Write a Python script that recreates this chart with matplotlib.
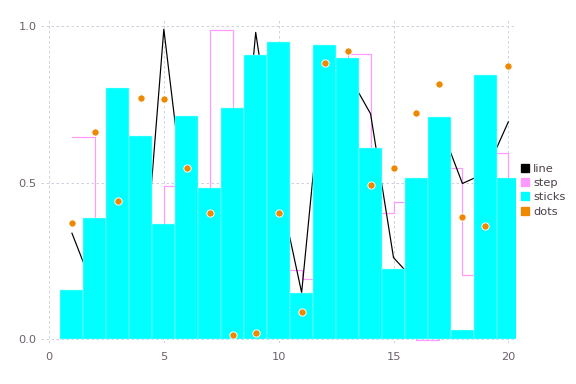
import numpy as np

import matplotlib
matplotlib.use("Agg")

import matplotlib.pyplot as plt
from matplotlib.lines import Line2D


# values, one per x position
xs = np.arange(1, 21)
lineVals = [0.338, 0.15, 0.30, 0.07, 0.99, 0.38, 0.30, 0.17, 0.98, 0.49,
            0.148, 0.90, 0.85, 0.72, 0.26, 0.18, 0.69, 0.497, 0.53, 0.694]
stepVals = [0.645, 0.30, 0.55, 0.20, 0.489, 0.40, 0.989, 0.60, 0.50, 0.220,
            0.193, 0.70, 0.912, 0.404, 0.437, -0.002, 0.547, 0.203, 0.596, 0.30]
stickVals = [0.156, 0.387, 0.802, 0.649, 0.366, 0.713, 0.483, 0.739, 0.909, 0.949,
             0.147, 0.939, 0.898, 0.609, 0.223, 0.514, 0.710, 0.029, 0.843, 0.513]
dotVals = [0.370, 0.662, 0.442, 0.771, 0.768, 0.548, 0.401, 0.012, 0.018, 0.404,
           0.087, 0.882, 0.919, 0.491, 0.548, 0.721, 0.815, 0.389, 0.362, 0.872]

seriesNames = ["line", "step", "sticks", "dots"]
seriesColors = ["black", "#ff99ff", "#00ffff", "#ee8800"]
xTicks = [0, 5, 10, 15, 20]
yTicks = [0.0, 0.5, 1.0]

labelColor = "#6c606b"
gridColor = "#d0d0e0"

fig = plt.figure(figsize=(6, 4), dpi=96)
ax = fig.add_axes([0.0707, 0.1068, 0.8246, 0.8455])

ax.step(xs, stepVals, where='post', color=seriesColors[1], lw=0.9, zorder=2)
ax.plot(xs, lineVals, color=seriesColors[0], lw=0.9, zorder=3)
ax.bar(xs, stickVals, width=1.0, color=seriesColors[2], edgecolor="#a8ffff", lw=0.35, zorder=4)
ax.scatter(xs, dotVals, s=30, color=seriesColors[3], edgecolors="white", linewidths=0.7, zorder=5)

ax.set_xlim(-0.36, 20.32)
ax.set_ylim(-0.013, 1.025)
ax.set_xticks(xTicks)
ax.set_xticklabels([str(t) for t in xTicks])
ax.set_yticks(yTicks)
ax.set_yticklabels([f"{t:.1f}" for t in yTicks])

ax.grid(True, color=gridColor, linestyle=(0, (2.5, 2.5)), lw=0.75, zorder=0)
ax.set_axisbelow(True)
for s in ax.spines.values():
	s.set_visible(False)
ax.tick_params(length=0, labelsize=8.5, labelcolor=labelColor)
ax.tick_params(axis='x', pad=7)
ax.tick_params(axis='y', pad=3)

handles = [Line2D([], [], marker='s', linestyle='none', markersize=6,
                  markerfacecolor=c, markeredgecolor=c) for c in seriesColors]
leg = ax.legend(handles, seriesNames, loc='center left', bbox_to_anchor=(1.007, 0.47),
                frameon=False, borderaxespad=0, borderpad=0, handlelength=1.0,
                handletextpad=0.25, labelspacing=0.36, fontsize=8.5)
for t in leg.get_texts():
	t.set_color("#4c404b")

plt.savefig("out.png", dpi=96)
